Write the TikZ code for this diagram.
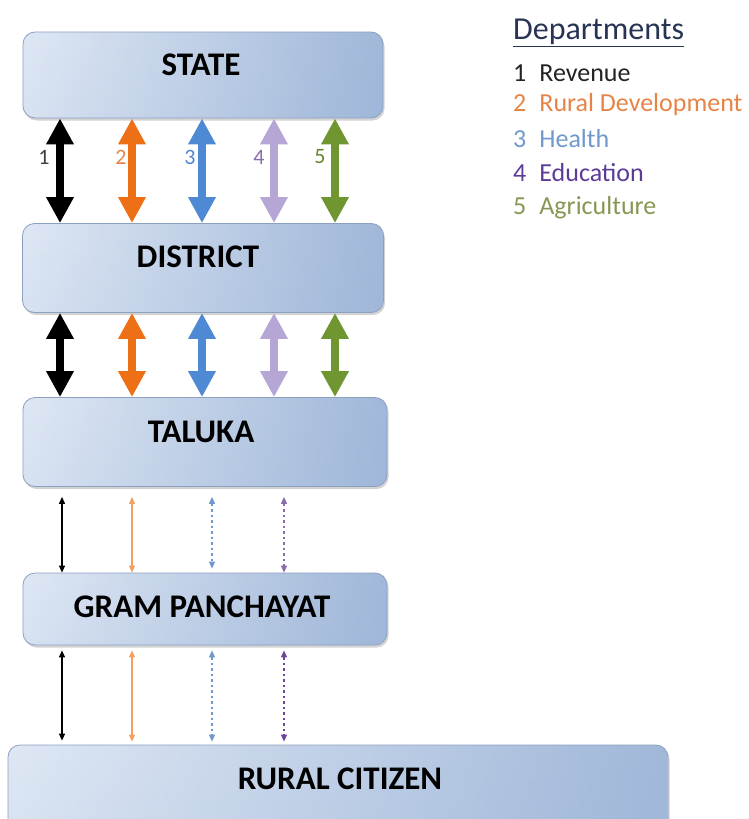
\documentclass[tikz,border=0pt]{standalone}
\usepackage{fontspec}
\setmainfont{Carlito}
\usetikzlibrary{arrows.meta,shadows,calc,fadings}

% tier box shading
\definecolor{tierTop}{RGB}{172,194,224}
\definecolor{tierMid}{RGB}{222,231,244}
\definecolor{tierMidB}{RGB}{214,225,241}
\definecolor{tierBot}{RGB}{184,202,228}
\definecolor{tierR}{RGB}{140,168,208}
\definecolor{tierEdge}{RGB}{140,160,192}
\pgfdeclareverticalshading{tierV}{100bp}{color(0bp)=(tierBot); color(14bp)=(tierMidB); color(70bp)=(tierMid); color(88bp)=(tierMid); color(100bp)=(tierTop)}
\tikzfading[name=fadeRight, left color=transparent!100, right color=transparent!0]
% department colours
\definecolor{revC}{RGB}{0,0,0}
\definecolor{ruralC}{RGB}{238,112,22}
\definecolor{healthC}{RGB}{78,138,212}
\definecolor{eduC}{RGB}{182,166,214}
\definecolor{agriC}{RGB}{112,150,50}
\definecolor{ruralThin}{RGB}{244,160,96}
\definecolor{healthThin}{RGB}{112,152,205}
\definecolor{eduThin}{RGB}{108,70,156}
% legend text colours
\definecolor{legHead}{RGB}{40,52,84}
\definecolor{legRev}{RGB}{35,35,35}
\definecolor{legRural}{RGB}{230,132,72}
\definecolor{legHealth}{RGB}{112,152,204}
\definecolor{legEdu}{RGB}{92,60,150}
\definecolor{legAgri}{RGB}{132,152,84}

\begin{document}
\begin{tikzpicture}[x=1pt,y=-1pt,
  tier/.style={draw=tierEdge, line width=0.8pt, rounded corners=12pt,
    shading=tierV, inner sep=0pt,
    drop shadow={shadow xshift=1.5pt,shadow yshift=-2.5pt,opacity=0.35},
    path picture={\fill[tierR, path fading=fadeRight, fill opacity=0.75]
      (path picture bounding box.south west) rectangle (path picture bounding box.north east);}},
  tiertext/.style={font=\fontsize{33}{33}\selectfont\bfseries, text=black, inner sep=0pt},
  bigarrow/.style={line width=8pt,
    {Triangle[width=26pt,length=26pt]}-{Triangle[width=26pt,length=26pt]}},
  thinarrow/.style={line width=1.2pt,
    {Triangle[width=6pt,length=7pt]}-{Triangle[width=6pt,length=7pt]}},
  dotline/.style={dash pattern=on 2.5pt off 3pt},
  numlabel/.style={font=\fontsize{22}{22}\selectfont, inner sep=0pt},
  legtext/.style={font=\fontsize{26}{26}\selectfont, anchor=west, inner sep=0pt}]

\useasboundingbox (0,0) rectangle (748,819);
\clip (0,0) rectangle (748,819);

% administrative tiers
\node[tier, minimum width=360pt, minimum height=86pt] (state) at (203,75) {};
\node[tier, minimum width=361pt, minimum height=89pt] (district) at (203,268) {};
\node[tier, minimum width=364pt, minimum height=89pt] (taluka) at (205,442) {};
\node[tier, minimum width=364pt, minimum height=72pt] (gp) at (205,609) {};
\node[tier, minimum width=660pt, minimum height=92pt] (citizen) at (338,791) {};

\node[tiertext] (stateT) at (201,65) {STATE};
\node[tiertext] (districtT) at (198,257) {DISTRICT};
\node[tiertext] (talukaT) at (201,432) {TALUKA};
\node[tiertext] (gpT) at (202,607) {GRAM PANCHAYAT};
\node[tiertext] (citizenT) at (340,779) {RURAL CITIZEN};

% column positions
\coordinate (c1) at (60,0);
\coordinate (c2) at (132,0);
\coordinate (c3) at (202,0);
\coordinate (c4) at (274,0);
\coordinate (c5) at (335,0);
\coordinate (d1) at (62,0);
\coordinate (d2) at (132,0);
\coordinate (d3) at (212,0);
\coordinate (d4) at (284,0);

% department numbers beside the top arrows
\node[numlabel, text=black!75] (n1) at (44,157) {1};
\node[numlabel, text=legRural] (n2) at (121,157) {2};
\node[numlabel, text=healthC] (n3) at (190,157) {3};
\node[numlabel, text=eduThin!80] (n4) at (259,157) {4};
\node[numlabel, text=agriC!90!black] (n5) at (320,157) {5};

% state <-> district
\draw[bigarrow, revC]    (state.south -| c1) -- (district.north -| c1);
\draw[bigarrow, ruralC]  (state.south -| c2) -- (district.north -| c2);
\draw[bigarrow, healthC] (state.south -| c3) -- (district.north -| c3);
\draw[bigarrow, eduC]    (state.south -| c4) -- (district.north -| c4);
\draw[bigarrow, agriC]   (state.south -| c5) -- (district.north -| c5);

% district <-> taluka
\draw[bigarrow, revC]    (district.south -| c1) -- (taluka.north -| c1);
\draw[bigarrow, ruralC]  (district.south -| c2) -- (taluka.north -| c2);
\draw[bigarrow, healthC] (district.south -| c3) -- (taluka.north -| c3);
\draw[bigarrow, eduC]    (district.south -| c4) -- (taluka.north -| c4);
\draw[bigarrow, agriC]   (district.south -| c5) -- (taluka.north -| c5);

% taluka <-> gram panchayat
\draw[thinarrow, revC, shorten <=10pt]    (taluka.south -| d1) -- (gp.north -| d1);
\draw[thinarrow, ruralThin, shorten <=10pt] (taluka.south -| d2) -- (gp.north -| d2);
\draw[thinarrow, dotline, healthThin, shorten <=10pt, shorten >=4pt] (taluka.south -| d3) -- (gp.north -| d3);
\draw[thinarrow, dotline, eduThin!80, shorten <=10pt] (taluka.south -| d4) -- (gp.north -| d4);

% gram panchayat <-> rural citizen
\draw[thinarrow, revC, shorten <=5pt, shorten >=4pt]    (gp.south -| d1) -- (citizen.north -| d1);
\draw[thinarrow, ruralThin, shorten <=5pt, shorten >=3pt] (gp.south -| d2) -- (citizen.north -| d2);
\draw[thinarrow, dotline, healthThin, shorten <=5pt, shorten >=3pt] (gp.south -| d3) -- (citizen.north -| d3);
\draw[thinarrow, dotline, eduThin, shorten <=5pt, shorten >=3pt] (gp.south -| d4) -- (citizen.north -| d4);

% legend
\node[legtext, text=legHead, font=\fontsize{32}{32}\selectfont] (legH) at (513,33) {\underline{Departments}};
\node[legtext, text=legRev] (leg1) at (513,73) {1\hspace{0.5em}Revenue};
\node[legtext, text=legRural] (leg2) at (513,105) {2\hspace{0.5em}Rural Development};
\node[legtext, text=legHealth] (leg3) at (513,139) {3\hspace{0.5em}Health};
\node[legtext, text=legEdu] (leg4) at (513,173) {4\hspace{0.5em}Education};
\node[legtext, text=legAgri] (leg5) at (513,208) {5\hspace{0.5em}Agriculture};
\end{tikzpicture}
\end{document}
